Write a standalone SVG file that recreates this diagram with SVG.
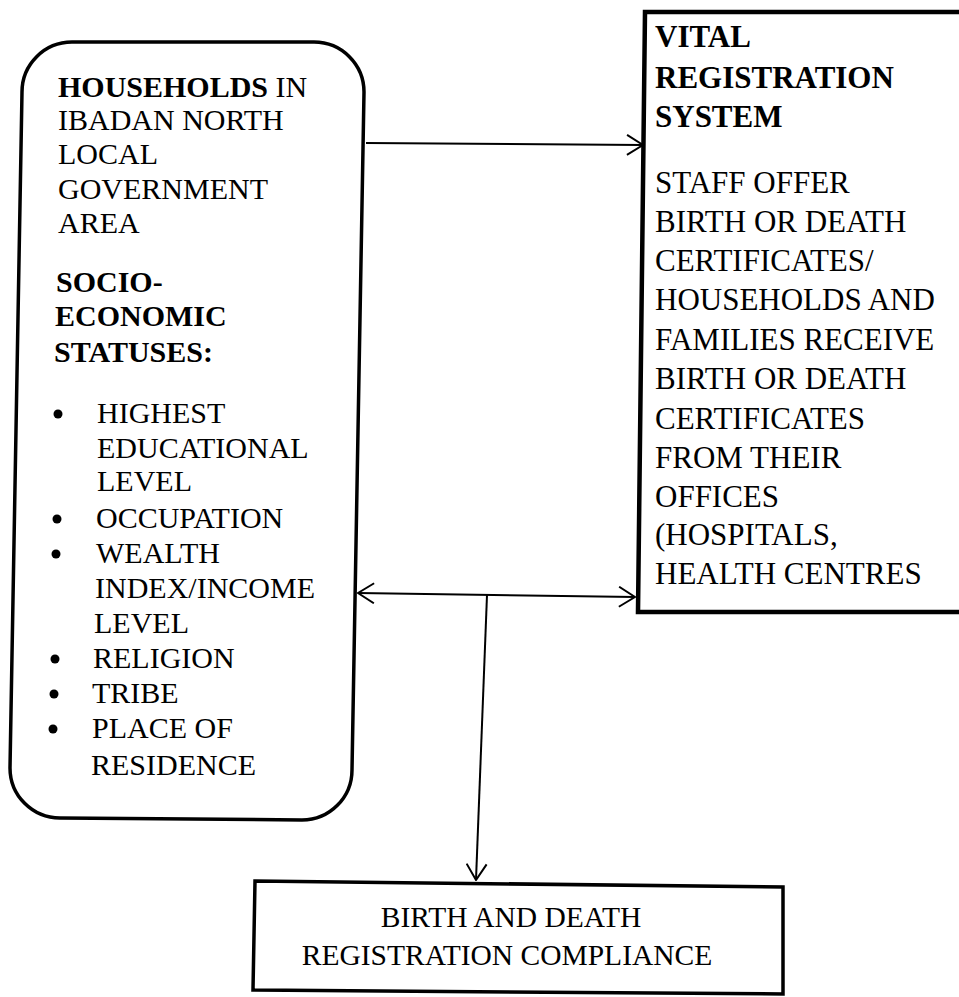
<svg xmlns="http://www.w3.org/2000/svg" width="959" height="997" viewBox="0 0 959 997">
<style>
.box{fill:#fff;stroke:#000;stroke-width:3.5}
.t{font-family:"Liberation Serif","Times New Roman",serif;fill:#000}
.l{font-size:30px}
.r{font-size:31px}
.b{font-weight:bold}
.c{font-size:29.5px;text-anchor:middle}
.con{stroke:#000;stroke-width:2;fill:none}
</style>
<defs>
<marker id="ah" viewBox="0 0 18 22" refX="17" refY="11" markerWidth="18" markerHeight="22" markerUnits="userSpaceOnUse" orient="auto-start-reverse">
<path d="M1,1 L17,11 L1,21" fill="none" stroke="#000" stroke-width="2"/>
</marker>
</defs>
<rect width="959" height="997" fill="#fff"/>
<g id="households">
<path class="box" d="M72,42 L314,42 A50,50 0 0 1 364,92 L352,770 A50,50 0 0 1 302,820 L60,818 A50,50 0 0 1 10,768 L22,92 A50,50 0 0 1 72,42 Z"/>
<text class="t l" x="58" y="97"><tspan class="b">HOUSEHOLDS</tspan> IN</text>
<text class="t l" x="58" y="130">IBADAN NORTH</text>
<text class="t l" x="58" y="164">LOCAL</text>
<text class="t l" x="58" y="199">GOVERNMENT</text>
<text class="t l" x="58" y="233">AREA</text>
<text class="t l b" x="56" y="292">SOCIO-</text>
<text class="t l b" x="55" y="326">ECONOMIC</text>
<text class="t l b" x="54" y="362">STATUSES:</text>
<g fill="#000">
<circle cx="58" cy="414" r="4.5"/>
<circle cx="57" cy="519" r="4.5"/>
<circle cx="56" cy="554" r="4.5"/>
<circle cx="55" cy="659" r="4.5"/>
<circle cx="54" cy="694" r="4.5"/>
<circle cx="53" cy="729" r="4.5"/>
</g>
<text class="t l" x="97" y="423">HIGHEST</text>
<text class="t l" x="97" y="458">EDUCATIONAL</text>
<text class="t l" x="97" y="491">LEVEL</text>
<text class="t l" x="96" y="528">OCCUPATION</text>
<text class="t l" x="96" y="563">WEALTH</text>
<text class="t l" x="95" y="598">INDEX/INCOME</text>
<text class="t l" x="94" y="633">LEVEL</text>
<text class="t l" x="93" y="668">RELIGION</text>
<text class="t l" x="92" y="703">TRIBE</text>
<text class="t l" x="92" y="738">PLACE OF</text>
<text class="t l" x="91" y="775">RESIDENCE</text>
</g>
<g id="vital">
<path class="box" d="M645,12 L990,12 L990,612 L638,612 Z" style="stroke-width:4.5"/>
<text class="t r b" x="655" y="47">VITAL</text>
<text class="t r b" x="655" y="88">REGISTRATION</text>
<text class="t r b" x="655" y="127">SYSTEM</text>
<text class="t r" x="655" y="193">STAFF OFFER</text>
<text class="t r" x="655" y="232">BIRTH OR DEATH</text>
<text class="t r" x="655" y="271">CERTIFICATES/</text>
<text class="t r" x="655" y="310">HOUSEHOLDS AND</text>
<text class="t r" x="655" y="350">FAMILIES RECEIVE</text>
<text class="t r" x="655" y="389">BIRTH OR DEATH</text>
<text class="t r" x="655" y="429">CERTIFICATES</text>
<text class="t r" x="655" y="468">FROM THEIR</text>
<text class="t r" x="655" y="507">OFFICES</text>
<text class="t r" x="655" y="545">(HOSPITALS,</text>
<text class="t r" x="655" y="584">HEALTH CENTRES</text>
</g>
<g id="compliance">
<path class="box" d="M255,881 L783,887 L783,994 L253,990 Z" style="stroke-width:3.5"/>
<text class="t c" x="511" y="927">BIRTH AND DEATH</text>
<text class="t c" x="507" y="965">REGISTRATION COMPLIANCE</text>
</g>
<g id="connectors">
<line class="con" x1="366" y1="143" x2="643" y2="145" marker-end="url(#ah)"/>
<line class="con" x1="358" y1="593" x2="635" y2="597" marker-start="url(#ah)" marker-end="url(#ah)"/>
<line class="con" x1="487" y1="595" x2="476" y2="880" marker-end="url(#ah)"/>
</g>
</svg>
